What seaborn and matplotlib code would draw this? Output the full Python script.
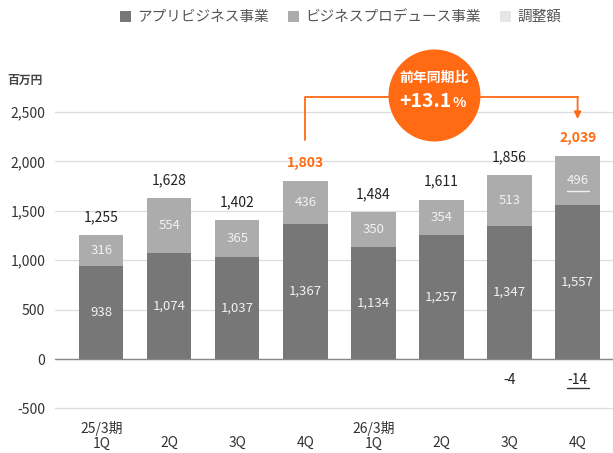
import pandas as pd
import numpy as np

import seaborn as sns
import matplotlib.pyplot as plt
from matplotlib.patches import Patch


periods = ['25/3期 1Q', '25/3期 2Q', '25/3期 3Q', '25/3期 4Q',
           '26/3期 1Q', '26/3期 2Q', '26/3期 3Q', '26/3期 4Q']
xlabels = ['25/3期\n1Q', '\n2Q', '\n3Q', '\n4Q', '26/3期\n1Q', '\n2Q', '\n3Q', '\n4Q']
app = [938, 1074, 1037, 1367, 1134, 1257, 1347, 1557]
bizprod = [316, 554, 365, 436, 350, 354, 513, 496]
adjust = [0, 0, 0, 0, 0, 0, -4, -14]
totals = [1255, 1628, 1402, 1803, 1484, 1611, 1856, 2039]
series_names = ['アプリビジネス事業', 'ビジネスプロデュース事業', '調整額']
yoy_value = '+13.1'

C_APP = '#777777'
C_BP = '#acacac'
C_ADJ = '#e6e6e6'
ORANGE = '#ff6a13'

sns.set_style('white')
plt.rcParams['font.family'] = ['Noto Sans CJK JP', 'DejaVu Sans']

df = pd.DataFrame({'period': periods, 'app': app, 'bp': bizprod, 'adj': adjust, 'total': totals})
df['stack'] = df['app'] + df['bp']

fig = plt.figure(figsize=(6.13, 4.53), dpi=100)
ax = fig.add_axes([0.0897, 0.0766, 0.9103, 0.698])

# stacked via overlay: upper segment first, app segment on top of it
bar_kw = dict(width=0.65, saturation=1, ax=ax, linewidth=0, edgecolor='none')
sns.barplot(data=df, x='period', y='stack', color=C_BP, zorder=2, **bar_kw)
sns.barplot(data=df, x='period', y='app', color=C_APP, zorder=3, **bar_kw)
sns.barplot(data=df, x='period', y='adj', color=C_ADJ, zorder=3, **bar_kw)

ax.set_ylim(-600, 2600)
ax.set_xlim(-0.68, 7.52)
ax.set_yticks(np.arange(-500, 2501, 500))
ax.set_yticklabels([f'{v:,}' for v in range(-500, 2501, 500)], fontsize=10, color='#333333')
ax.set_xticks(range(len(periods)))
ax.set_xticklabels(xlabels, fontsize=10, color='#333333', linespacing=1.05)
ax.tick_params(axis='y', length=0, pad=7)
ax.tick_params(axis='x', length=0, pad=2)
ax.set_xlabel('')
ax.set_ylabel('')
for s in ax.spines.values():
    s.set_visible(False)
ax.grid(axis='y', color='#dddddd', lw=0.9, zorder=0)
ax.set_axisbelow(True)
ax.axhline(0, color='#888888', lw=1.0, zorder=4)

# labels inside segments
for i in range(len(periods)):
    ax.text(i, app[i] / 2, f'{app[i]:,}', ha='center', va='center', fontsize=9.5, color='#f2f2f2', zorder=5)
    ax.text(i, app[i] + bizprod[i] / 2, f'{bizprod[i]:,}', ha='center', va='center', fontsize=9.5,
            color='#f2f2f2', zorder=5)
    top = app[i] + bizprod[i]
    hl = i in (3, 7)
    ax.annotate(f'{totals[i]:,}', (i, top), xytext=(0, 13), textcoords='offset points',
                ha='center', va='center', fontsize=10, color=ORANGE if hl else '#222222',
                fontweight='bold' if hl else 'normal', zorder=5)
    if adjust[i] != 0:
        ax.text(i, -215, f'{adjust[i]:,}', ha='center', va='center', fontsize=10, color='#222222', zorder=5)

ax.plot([6.84, 7.16], [-290, -290], color='#333333', lw=1, zorder=5)
ax.plot([6.84, 7.16], [1703, 1703], color='#f2f2f2', lw=1, zorder=5)

# year-over-year callout
ax.plot([3, 3, 7], [2217, 2652, 2652], color=ORANGE, lw=1.3, clip_on=False, zorder=5)
ax.annotate('', xy=(7, 2430), xytext=(7, 2653),
            arrowprops=dict(arrowstyle='-|>', color=ORANGE, lw=1.3, mutation_scale=10,
                            shrinkA=0, shrinkB=0), annotation_clip=False, zorder=5)
ax.scatter([4.89], [2672], s=4385, color=ORANGE, clip_on=False, zorder=6, linewidths=0)
ax.text(4.89, 2840, '前年同期比', ha='center', va='center', fontsize=10, color='white',
        fontweight='bold', zorder=7, clip_on=False)
ax.text(5.15, 2610, yoy_value, ha='right', va='center', fontsize=14, color='white',
        fontweight='bold', zorder=7, clip_on=False)
ax.text(5.16, 2590, '%', ha='left', va='center', fontsize=10, color='white',
        fontweight='bold', zorder=7, clip_on=False)

fig.text(0.041, 0.823, '百万円', ha='center', va='center', fontsize=8.5, color='#444444', fontweight='bold')

handles = [Patch(facecolor=c, edgecolor='none') for c in (C_APP, C_BP, C_ADJ)]
fig.legend(handles, series_names, loc='center', bbox_to_anchor=(0.555, 0.962), ncol=3, frameon=False,
           fontsize=10.5, handlelength=0.8, handleheight=0.8, handletextpad=0.4, columnspacing=1.3,
           labelcolor='#555555')

plt.savefig('out.png', dpi=100)
